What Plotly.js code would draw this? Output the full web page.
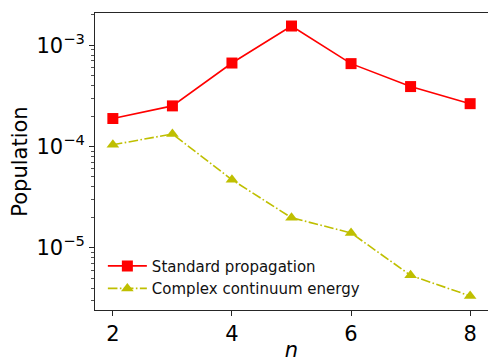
<!DOCTYPE html>
<html>
<head>
<meta charset="utf-8">
<script src="https://cdn.plot.ly/plotly-3.0.1.min.js"></script>
<style>
  html, body { margin: 0; padding: 0; background: #fff; }
  #chart { width: 488px; height: 362px; }
</style>
</head>
<body>
<div id="chart"></div>
<script>
// Principal quantum number of the final state
const levels = [2, 3, 4, 5, 6, 7, 8];

// Final-state populations for the two propagation schemes
const standardPop = [1.89e-4, 2.52e-4, 6.68e-4, 1.55e-3, 6.59e-4, 3.91e-4, 2.65e-4];
const complexPop  = [1.04e-4, 1.33e-4, 4.69e-5, 1.98e-5, 1.40e-5, 5.34e-6, 3.34e-6];

const seriesNames = ["Standard propagation", "Complex continuum energy"];

// Decade labels on the log axis
const majorY = [1e-5, 1e-4, 1e-3];
const majorYText = ["10<sup>\u22125</sup>", "10<sup>\u22124</sup>", "10<sup>\u22123</sup>"];
const xTicks = [2, 4, 6, 8];

// Minor ticks at 2..9 within each decade
const minorY = [];
for (let e = -6; e <= -3; e++) {
  for (let m = 2; m <= 9; m++) minorY.push(m * Math.pow(10, e));
}

const FONT = "DejaVu Sans, sans-serif";
const AXIS = "#262626";

const traces = [
  {
    x: levels, y: standardPop, name: seriesNames[0],
    type: "scatter", mode: "lines+markers",
    line: { color: "#ff0000", width: 1.6 },
    marker: { symbol: "square", size: 11, color: "#ff0000" }
  },
  {
    x: levels, y: complexPop, name: seriesNames[1],
    type: "scatter", mode: "lines+markers",
    line: { color: "#bfbf00", width: 1.6, dash: "9.6px,2.4px,1.6px,2.4px" },
    marker: { symbol: "triangle-up", size: 11, color: "#bfbf00" }
  }
];

const layout = {
  width: 488, height: 362,
  margin: { l: 95, r: 0, t: 13, b: 52 },
  paper_bgcolor: "#fff", plot_bgcolor: "#fff",
  font: { family: FONT, color: "#000" },
  showlegend: true,
  legend: {
    x: 0.02, y: 0.018, xanchor: "left", yanchor: "bottom",
    itemwidth: 39,
    bgcolor: "rgba(255,255,255,0)",
    font: { family: FONT, size: 15, color: "#111" }
  },
  xaxis: {
    range: [1.7, 8.3],
    tickmode: "array", tickvals: xTicks,
    ticks: "outside", ticklen: 5, tickwidth: 1, tickcolor: AXIS,
    showline: true, linecolor: AXIS, linewidth: 1, mirror: true,
    showgrid: false, zeroline: false,
    tickfont: { family: FONT, size: 21 },
    title: { text: "<i>n</i>", font: { family: FONT, size: 21 }, standoff: 8 }
  },
  yaxis: {
    type: "log",
    range: [-5.615, -2.681],
    tickmode: "array", tickvals: majorY, ticktext: majorYText,
    ticks: "outside", ticklen: 5, tickwidth: 1, tickcolor: AXIS,
    minor: { tickmode: "array", tickvals: minorY, ticks: "outside", ticklen: 3, tickwidth: 0.8, tickcolor: AXIS, showgrid: false },
    showline: true, linecolor: AXIS, linewidth: 1, mirror: true,
    showgrid: false, zeroline: false,
    tickfont: { family: FONT, size: 21 },
    title: { text: "Population", font: { family: FONT, size: 21 }, standoff: 3 }
  }
};

Plotly.newPlot("chart", traces, layout, { displayModeBar: false, staticPlot: true });
</script>
</body>
</html>
